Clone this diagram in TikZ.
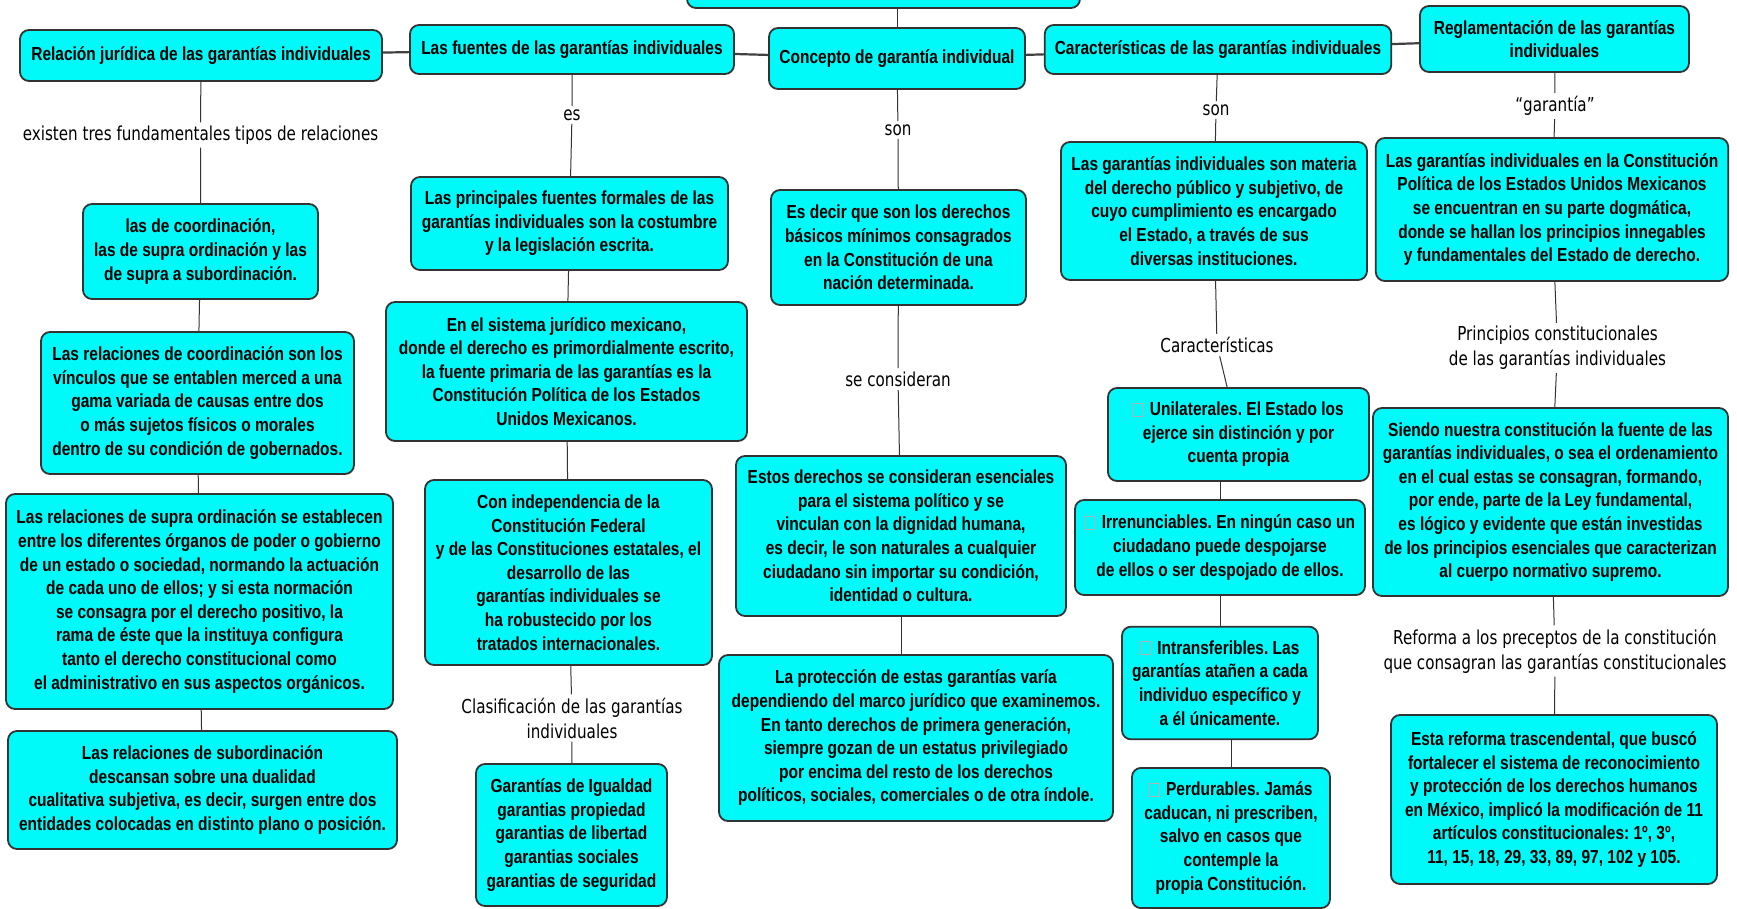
\documentclass[tikz,border=0pt]{standalone}
\usepackage{fontspec}
\usetikzlibrary{positioning}
\newfontfamily\cajafam{Liberation Sans}[FakeStretch=0.82]
\newfontfamily\etiqfam{DejaVu Sans}[FakeStretch=0.79]
\definecolor{cian}{RGB}{0,250,250}
\newcommand\casilla{\textcolor{black!30}{\fboxsep=0pt\fboxrule=0.4pt\fbox{\rule{0pt}{0.65em}\hspace{0.45em}}}\hspace{0.35em}}
\frenchspacing

\begin{document}
\begin{tikzpicture}[
  x=0.5pt, y=-0.5pt,
  caja/.style={draw=black!80,line width=0.9pt,fill=cian,rounded corners=4.5pt,
    align=center,inner xsep=5pt,inner ysep=7pt,
    font=\cajafam\bfseries\fontsize{9.45pt}{11.8pt}\selectfont},
  etiqueta/.style={align=center,inner sep=1.5pt,
    font=\etiqfam\fontsize{9.6pt}{12.5pt}\selectfont},
  enlace/.style={draw=black!80,line width=0.5pt},
  rama/.style={draw=black!75,line width=1.1pt}
]
\fill[white] (0,0) rectangle (1737,909);
\path[clip,use as bounding box] (0,0) rectangle (1737,909);

% Top row
\node[caja,minimum width=196.5pt,minimum height=28pt] (Tope) at (883.5,-20) {};
\node[caja,minimum width=181pt,minimum height=25.5pt] (R1) at (201,55.5)
  {Relación jurídica de las garantías individuales};
\node[caja,minimum width=162pt,minimum height=24.5pt] (F) at (572,49.5)
  {Las fuentes de las garantías individuales};
\node[caja,minimum width=128pt,minimum height=30.5pt] (C) at (897,58.5)
  {Concepto de garantía individual};
\node[caja,minimum width=173pt,minimum height=24.5pt] (D) at (1218,49.5)
  {Características de las garantías individuales};
\node[caja,minimum width=134.5pt,minimum height=33pt] (E) at (1554.5,39)
  {Reglamentación de las garantías\\individuales};

% Relación jurídica
\node[etiqueta] (lR1) at (200.5,135) {existen tres fundamentales tipos de relaciones};
\node[caja,minimum width=117.5pt,minimum height=47.5pt] (A1) at (200.5,251.5)
  {las de coordinación,\\las de supra ordinación y las\\de supra a subordinación.};
\node[caja,minimum width=156.5pt,minimum height=71pt] (A2) at (197.5,403)
  {Las relaciones de coordinación son los\\vínculos que se entablen merced a una\\gama variada de causas entre dos\\o más sujetos físicos o morales\\dentro de su condición de gobernados.};
\node[caja,minimum width=193.5pt,minimum height=107.5pt] (A3) at (199.5,601.5)
  {Las relaciones de supra ordinación se establecen\\entre los diferentes órganos de poder o gobierno\\de un estado o sociedad, normando la actuación\\de cada uno de ellos; y si esta normación\\se consagra por el derecho positivo, la\\rama de éste que la instituya configura\\tanto el derecho constitucional como\\el administrativo en sus aspectos orgánicos.};
\node[caja,minimum width=194.5pt,minimum height=59pt] (A4) at (202.5,790)
  {Las relaciones de subordinación\\descansan sobre una dualidad\\cualitativa subjetiva, es decir, surgen entre dos\\entidades colocadas en distinto plano o posición.};

% Fuentes
\node[etiqueta] (lF) at (572,115) {es};
\node[caja,minimum width=158.5pt,minimum height=46.5pt] (B1) at (569.5,223.5)
  {Las principales fuentes formales de las\\garantías individuales son la costumbre\\y la legislación escrita.};
\node[caja,minimum width=180.5pt,minimum height=69.5pt] (B2) at (566.5,371.5)
  {En el sistema jurídico mexicano,\\donde el derecho es primordialmente escrito,\\la fuente primaria de las garantías es la\\Constitución Política de los Estados\\Unidos Mexicanos.};
\node[caja,minimum width=143.5pt,minimum height=92.5pt] (B3) at (568.5,572.5)
  {Con independencia de la\\Constitución Federal\\y de las Constituciones estatales, el\\desarrollo de las\\garantías individuales se\\ha robustecido por los\\tratados internacionales.};
\node[etiqueta] (lB3) at (572,718) {Clasificación de las garantías\\individuales};
\node[caja,minimum width=95.5pt,minimum height=71pt] (B4) at (571.5,835)
  {Garantías de Igualdad\\garantias propiedad\\garantias de libertad\\garantias sociales\\garantias de seguridad};

% Concepto
\node[etiqueta] (lC) at (898,130) {son};
\node[caja,minimum width=127.5pt,minimum height=57.5pt] (C1) at (898.5,247.5)
  {Es decir que son los derechos\\básicos mínimos consagrados\\en la Constitución de una\\nación determinada.};
\node[etiqueta] (lC1) at (898,379) {se consideran};
\node[caja,minimum width=165pt,minimum height=80pt] (C2) at (901,536)
  {Estos derechos se consideran esenciales\\para el sistema político y se\\vinculan con la dignidad humana,\\es decir, le son naturales a cualquier\\ciudadano sin importar su condición,\\identidad o cultura.};
\node[caja,minimum width=197pt,minimum height=83pt] (C3) at (916,738)
  {La protección de estas garantías varía\\dependiendo del marco jurídico que examinemos.\\En tanto derechos de primera generación,\\siempre gozan de un estatus privilegiado\\por encima del resto de los derechos\\políticos, sociales, comerciales o de otra índole.};

% Características
\node[etiqueta] (lD) at (1216,110) {son};
\node[caja,minimum width=153pt,minimum height=69pt] (D1) at (1214,211)
  {Las garantías individuales son materia\\del derecho público y subjetivo, de\\cuyo cumplimiento es encargado\\el Estado, a través de sus\\diversas instituciones.};
\node[etiqueta] (lD1) at (1217,345) {Características};
\node[caja,minimum width=130.5pt,minimum height=46.5pt] (D2) at (1238.5,434.5)
  {\casilla Unilaterales. El Estado los\\ejerce sin distinción y por\\cuenta propia};
\node[caja,minimum width=145pt,minimum height=47.5pt] (D3) at (1220,547.5)
  {\casilla Irrenunciables. En ningún caso un\\ciudadano puede despojarse\\de ellos o ser despojado de ellos.};
\node[caja,minimum width=98pt,minimum height=56pt] (D4) at (1220,683)
  {\casilla Intransferibles. Las\\garantías atañen a cada\\individuo específico y\\a él únicamente.};
\node[caja,minimum width=99pt,minimum height=70pt] (D5) at (1231,838)
  {\casilla Perdurables. Jamás\\caducan, ni prescriben,\\salvo en casos que\\contemple la\\propia Constitución.};

% Reglamentación
\node[etiqueta] (lE) at (1555,106) {“garantía”};
\node[caja,minimum width=174pt,minimum height=71.5pt] (E1) at (1552,209.5)
  {Las garantías individuales en la Constitución\\Política de los Estados Unidos Mexicanos\\se encuentran en su parte dogmática,\\donde se hallan los principios innegables\\y fundamentales del Estado de derecho.};
\node[etiqueta] (lE1) at (1557.5,348) {Principios constitucionales\\de las garantías individuales};
\node[caja,minimum width=177.5pt,minimum height=94pt] (E2) at (1550.5,502)
  {Siendo nuestra constitución la fuente de las\\garantías individuales, o sea el ordenamiento\\en el cual estas se consagran, formando,\\por ende, parte de la Ley fundamental,\\es lógico y evidente que están investidas\\de los principios esenciales que caracterizan\\al cuerpo normativo supremo.};
\node[etiqueta] (lE2) at (1555,651) {Reforma a los preceptos de la constitución\\que consagran las garantías constitucionales};
\node[caja,minimum width=163pt,minimum height=84.5pt] (E3) at (1554,799.5)
  {Esta reforma trascendental, que buscó\\fortalecer el sistema de reconocimiento\\y protección de los derechos humanos\\en México, implicó la modificación de 11\\artículos constitucionales: 1º, 3º,\\11, 15, 18, 29, 33, 89, 97, 102 y 105.};

% Connections
\draw[enlace] (C.north) -- (C.north |- Tope.south);
\draw[rama] (R1) -- (F) -- (C) -- (D) -- (E);
\draw[enlace] (R1) -- (lR1) -- (A1) -- (A2) -- (A3) -- (A4);
\draw[enlace] (F) -- (lF) -- (B1) -- (B2) -- (B3) -- (lB3) -- (B4);
\draw[enlace] (C) -- (lC) -- (C1) -- (lC1) -- (C2);
\draw[enlace] (C2.south) -- (C2.south |- C3.north);
\draw[enlace] (D) -- (lD) -- (D1) -- (lD1) -- (D2);
\draw[enlace] (D3.north) -- (D3.north |- D2.south);
\draw[enlace] (D3) -- (D4);
\draw[enlace] (D5.north) -- (D5.north |- D4.south);
\draw[enlace] (E) -- (lE) -- (E1) -- (lE1) -- (E2) -- (lE2) -- (E3);

\end{tikzpicture}
\end{document}
